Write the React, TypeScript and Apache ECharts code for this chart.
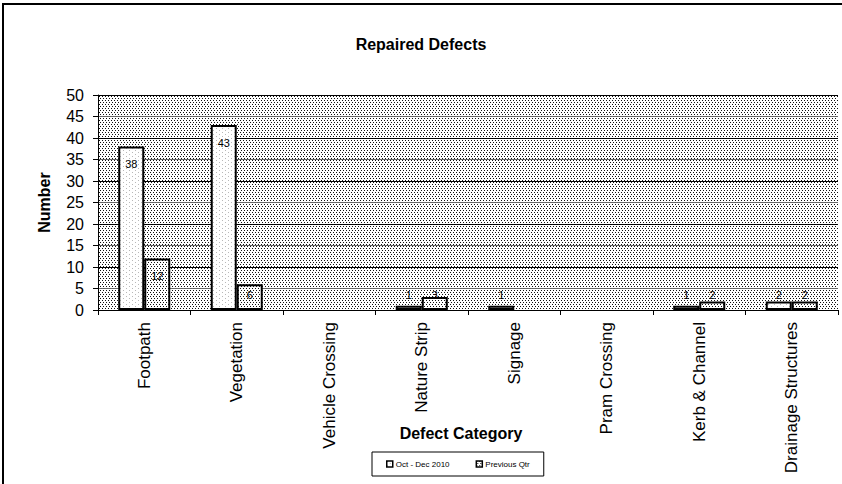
import React, { useEffect, useRef } from "react";
import * as echarts from "echarts";

const categories = [
  "Footpath",
  "Vegetation",
  "Vehicle Crossing",
  "Nature Strip",
  "Signage",
  "Pram Crossing",
  "Kerb & Channel",
  "Drainage Structures",
];
const currentQtr = [38, 43, 0, 1, 1, 0, 1, 2];
const previousQtr = [12, 6, 0, 3, 0, 0, 2, 2];
const seriesNames = ["Oct - Dec 2010", "Previous Qtr"];
const yTicks = { min: 0, max: 50, interval: 5 };

const FONT = "'Liberation Sans', Arial, sans-serif";

function svgUrl(svg: string) {
  return "data:image/svg+xml;charset=utf-8," + encodeURIComponent(svg);
}

const darkDots = svgUrl(
  '<svg xmlns="http://www.w3.org/2000/svg" width="6" height="4" shape-rendering="crispEdges">' +
    '<rect width="6" height="4" fill="#ffffff"/>' +
    '<rect x="0" y="0" width="1" height="1" fill="#111"/>' +
    '<rect x="3" y="0" width="1" height="1" fill="#111"/>' +
    '<rect x="1" y="2" width="1" height="1" fill="#111"/>' +
    '<rect x="4" y="2" width="1" height="1" fill="#111"/>' +
    "</svg>"
);
const lightDots = svgUrl(
  '<svg xmlns="http://www.w3.org/2000/svg" width="6" height="4" shape-rendering="crispEdges">' +
    '<rect width="6" height="4" fill="#ffffff"/>' +
    '<rect x="0" y="0" width="1" height="1" fill="#b8b8b8"/>' +
    '<rect x="3" y="2" width="1" height="1" fill="#b8b8b8"/>' +
    "</svg>"
);

const pattern = (image: string) => ({
  image,
  repeat: "repeat",
  imageWidth: 6,
  imageHeight: 4,
});

function mkData(vals: number[]) {
  return vals.map((v) => ({
    value: v,
    itemStyle: v > 0 ? undefined : { borderWidth: 0, opacity: 0 },
    label: {
      show: v > 0,
      position: v >= 10 ? "insideTop" : "insideBottom",
      distance: v >= 10 ? 12 : 10,
    },
  }));
}

export default function App() {
  const ref = useRef<HTMLDivElement>(null);
  useEffect(() => {
    if (!ref.current) return;
    const chart = echarts.init(ref.current, undefined, { renderer: "svg" });
    const labelStyle = { color: "#000", fontSize: 11, fontFamily: FONT };
    chart.setOption({
      animation: false,
      backgroundColor: "#ffffff",
      title: {
        text: "Repaired Defects",
        left: "center",
        top: 31,
        textStyle: { fontSize: 16, fontWeight: "bold", color: "#000", fontFamily: FONT },
      },
      legend: {
        data: seriesNames,
        left: 372,
        top: 452,
        padding: [8, 14],
        borderColor: "#000",
        borderWidth: 1,
        itemWidth: 6,
        itemHeight: 6,
        itemGap: 26,
        icon: "rect",
        itemStyle: { borderColor: "#000", borderWidth: 1.5 },
        textStyle: { fontSize: 8, color: "#000", fontFamily: FONT, padding: [0, 0, 0, -2] },
      },
      grid: {
        left: 98,
        right: 4,
        top: 95,
        bottom: 174,
        show: true,
        backgroundColor: pattern(darkDots),
        borderWidth: 0,
      },
      xAxis: {
        type: "category",
        data: categories,
        axisLine: { lineStyle: { color: "#000", width: 1 } },
        axisTick: { show: true, length: 5, lineStyle: { color: "#000" } },
        axisLabel: {
          rotate: 90,
          margin: 12,
          color: "#000",
          fontSize: 17,
          fontFamily: FONT,
        },
      },
      yAxis: {
        type: "value",
        min: yTicks.min,
        max: yTicks.max,
        interval: yTicks.interval,
        name: "Number",
        nameLocation: "middle",
        nameGap: 46,
        nameRotate: 90,
        nameTextStyle: { fontSize: 16, fontWeight: "bold", color: "#000", fontFamily: FONT },
        axisLine: { show: true, lineStyle: { color: "#000", width: 1 } },
        axisTick: { show: true, length: 5, lineStyle: { color: "#000" } },
        axisLabel: { margin: 14, color: "#000", fontSize: 16, fontFamily: FONT },
        splitLine: {
          show: true,
          lineStyle: { color: ["#000", "#666"], width: 1 },
        },
      },
      series: [
        {
          name: seriesNames[0],
          type: "bar",
          data: mkData(currentQtr),
          barWidth: 26,
          barGap: "0%",
          itemStyle: { color: pattern(lightDots), borderColor: "#000", borderWidth: 2 },
          label: labelStyle,
        },
        {
          name: seriesNames[1],
          type: "bar",
          data: mkData(previousQtr),
          barWidth: 26,
          barGap: "0%",
          itemStyle: { color: pattern(darkDots), borderColor: "#000", borderWidth: 2 },
          label: labelStyle,
        },
      ],
      graphic: [
        {
          type: "rect",
          shape: { x: 3, y: 4, width: 860, height: 500 },
          style: { fill: "none", stroke: "#000", lineWidth: 2 },
          silent: true,
        },
        {
          type: "text",
          x: 461,
          y: 425,
          style: {
            text: "Defect Category",
            textAlign: "center",
            fontSize: 16,
            fontWeight: "bold",
            fill: "#000",
            fontFamily: FONT,
          },
        },
      ],
    });
    return () => chart.dispose();
  }, []);
  return (
    <div
      ref={ref}
      style={{ position: "fixed", left: 0, top: 0, width: 842, height: 484 }}
    />
  );
}
